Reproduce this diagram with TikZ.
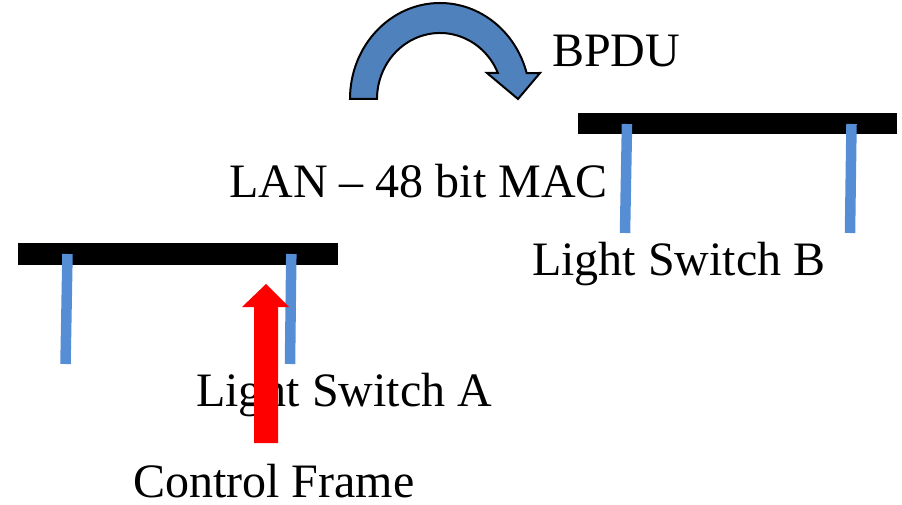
\documentclass[tikz,border=0pt]{standalone}
\usepackage{fontspec}
\setmainfont{Liberation Serif}
\definecolor{postblue}{HTML}{558ED5}
\definecolor{arrowblue}{HTML}{4F81BD}
\begin{document}
\begin{tikzpicture}[x=1pt,y=1pt,
  lbl/.style={anchor=base west,inner sep=0pt,font=\fontsize{48}{50}\selectfont},
  bar/.style={fill=black,draw=none},
  post/.style={draw=postblue,line width=10.5pt}]
\useasboundingbox (0,0) rectangle (902,504);
% left switch
\fill[bar] (18,239) rectangle (338,261);
\draw[post] (67.5,250) -- (65.5,140);
\draw[post] (291.3,250) -- (290,140);
% right switch
\fill[bar] (578,370) rectangle (897,391);
\draw[post] (627,380) -- (625,271);
\draw[post] (851.5,380) -- (850,271);
% texts
\node[lbl] (bpdu) at (552,437) {BPDU};
\node[lbl] (lan) at (229,306) {LAN – 48 bit MAC};
\node[lbl] (lsb) at (532,229) {Light Switch B};
\node[lbl] (lsa) at (196,98) {Light Switch A};
\node[lbl,text depth=0pt] (cf) at (133,7) {Control Frame};
% red arrow
\fill[red] (254,61) -- (278,61) -- (278,197) -- (289,197) -- (266,220) -- (242,197) -- (254,197) -- cycle;
% curved arrow
\filldraw[fill=arrowblue,draw=black,line width=2pt,line join=miter]
  (350,405) arc[start angle=180,end angle=15.7,x radius=90,y radius=96]
  -- (540,431) -- (518,405) -- (487,431) -- (497.9,431)
  arc[start angle=23.2,end angle=180,x radius=63,y radius=66] -- cycle;
\end{tikzpicture}
\end{document}
